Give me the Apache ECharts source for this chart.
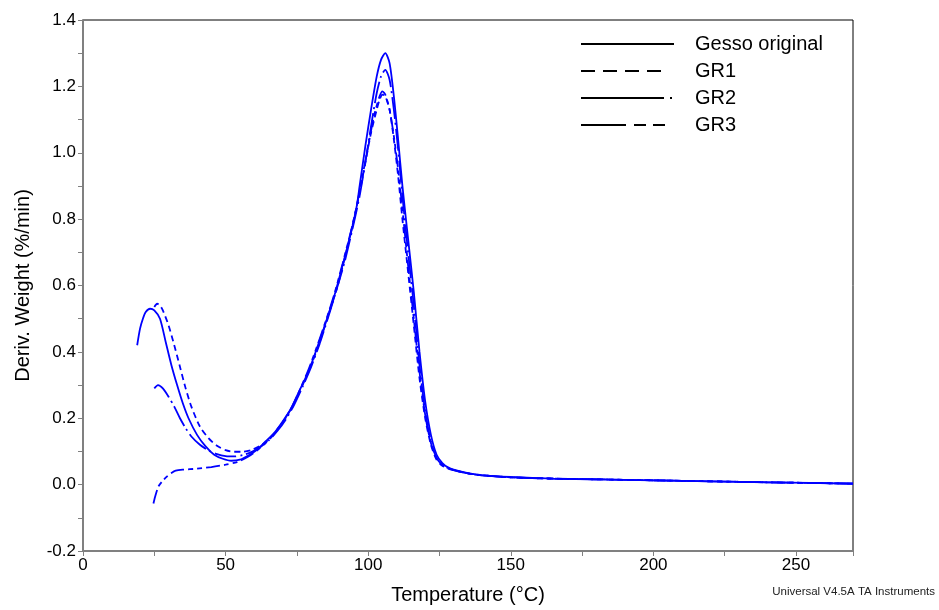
<!DOCTYPE html>
<html>
<head>
<meta charset="utf-8">
<script src="https://cdn.jsdelivr.net/npm/echarts@6/dist/echarts.min.js"></script>
<style>
	html, body { margin: 0; padding: 0; background: #fff; }
	#dtg { width: 939px; height: 610px; }
</style>
</head>
<body>
<div id="dtg"></div>
<script>
//////////// 데이터 ////////////
// Gesso original
var gessoT = [19,20,21,22,23.5,25,27,29,31,33,35,37,40,43,46,49,52,55,58,61,64,67,70,73,76,79,82,85,88,91,94,96,97,99,101,103,104.5,106,107.5,109,110.5,112,114,116,118,120,122,124,126,128,130,135,140,150,165,180,200,220,240,255,270];
var gessoV = [0.42,0.47,0.50,0.52,0.53,0.525,0.50,0.43,0.36,0.30,0.245,0.20,0.15,0.115,0.09,0.078,0.072,0.075,0.088,0.105,0.13,0.155,0.19,0.23,0.285,0.34,0.41,0.485,0.565,0.66,0.76,0.84,0.90,1.02,1.13,1.23,1.28,1.30,1.27,1.17,1.04,0.90,0.74,0.58,0.40,0.25,0.15,0.09,0.065,0.052,0.045,0.035,0.028,0.023,0.018,0.016,0.013,0.010,0.007,0.005,0.003];
// GR1
var gr1T = [25,26,27,28,30,32,34,36,38,41,44,47,50,53,56,59,62,65,68,71,74,77,80,83,86,89,92,95,97,99,101,103,104,105,106,107.5,109,110.5,112,114,116,118,120,122,124,126,128,130,135,140,150,165,180,200,220,240,255,270];
var gr1V = [0.535,0.545,0.54,0.525,0.48,0.42,0.355,0.29,0.235,0.175,0.14,0.117,0.104,0.099,0.099,0.104,0.116,0.135,0.165,0.2,0.245,0.3,0.36,0.43,0.51,0.59,0.69,0.80,0.88,0.97,1.06,1.13,1.16,1.175,1.17,1.13,1.04,0.93,0.80,0.64,0.48,0.32,0.2,0.12,0.075,0.057,0.048,0.043,0.034,0.028,0.022,0.018,0.016,0.013,0.01,0.007,0.005,0.003];
// GR2
var gr2T = [25,26.3,28,30,32,34,36,38,41,44,47,50,53,56,59,62,65,68,71,74,77,80,83,86,89,92,95,97,99,101,103,104.5,106,107.5,109,110.5,112,114,116,118,120,122,124,126,128,130,135,140,150,165,180,200,220,240,255,270];
var gr2V = [0.29,0.30,0.29,0.265,0.235,0.2,0.17,0.145,0.12,0.103,0.092,0.086,0.085,0.089,0.098,0.112,0.132,0.16,0.195,0.24,0.295,0.355,0.425,0.505,0.59,0.68,0.79,0.87,0.97,1.08,1.18,1.23,1.25,1.22,1.13,1.01,0.87,0.70,0.54,0.36,0.22,0.13,0.08,0.06,0.05,0.044,0.034,0.028,0.022,0.018,0.016,0.013,0.01,0.007,0.005,0.003];
// GR3
var gr3T = [24.7,25.5,26.5,28,29.5,31,32.5,35,40,45,50,54,58,61,64,67,70,73,76,79,82,85,88,91,94,96,98,100,102,104,105,106,107.5,109,110.5,112,114,116,118,120,122,124,126,128,130,135,140,150,165,180,200,220,240,255,270];
var gr3V = [-0.057,-0.03,-0.005,0.012,0.025,0.035,0.042,0.045,0.048,0.053,0.06,0.068,0.085,0.103,0.125,0.152,0.188,0.23,0.285,0.345,0.415,0.49,0.57,0.665,0.765,0.84,0.93,1.02,1.11,1.17,1.185,1.175,1.13,1.05,0.95,0.83,0.66,0.50,0.34,0.21,0.125,0.08,0.06,0.05,0.044,0.034,0.028,0.022,0.018,0.016,0.013,0.01,0.007,0.005,0.003];

var seriesNames = ['Gesso original', 'GR1', 'GR2', 'GR3'];
// 선 스타일 (차트 / 범례)
var lineDash = ['solid', [6, 4], [22, 4, 2, 4], [14, 4, 5, 4, 5, 4]];
var legendDash = ['solid', [14, 8, 14, 8, 14, 8, 14, 40], [83, 6, 2, 30], [45, 8, 12, 7, 12, 30]];

//////////// 차트 구성 ////////////
function pairs(t, v) {
	var out = [];
	for (var i = 0; i < t.length; i++) out.push([t[i], v[i]]);
	return out;
}

var allData = [pairs(gessoT, gessoV), pairs(gr1T, gr1V), pairs(gr2T, gr2V), pairs(gr3T, gr3V)];

var chart = echarts.init(document.getElementById('dtg'));

var series = [];
var legendData = [];
for (var i = 0; i < seriesNames.length; i++) {
	series.push({
		name: seriesNames[i],
		type: 'line',
		data: allData[i],
		symbol: 'none',
		smooth: 0.25,
		lineStyle: { color: '#0000ff', width: 1.8, type: lineDash[i] },
		itemStyle: { color: '#0000ff' }
	});
	legendData.push({
		name: seriesNames[i],
		itemStyle: { opacity: 0 },
		lineStyle: { color: '#000', width: 2, type: legendDash[i], opacity: 1 }
	});
}

var option = {
	animation: false,
	textStyle: { fontFamily: 'Liberation Sans, Arial, sans-serif' },
	grid: {
		left: 83, right: 86, top: 20, bottom: 56,
		show: true, borderColor: '#000', borderWidth: 1
	},
	legend: {
		data: legendData,
		orient: 'vertical',
		left: 575,
		top: 29,
		itemWidth: 93,
		itemHeight: 20,
		itemGap: 7,
		selectedMode: false,
		itemStyle: { opacity: 0 },
		textStyle: { fontSize: 20, color: '#000', padding: [0, 0, 0, 16] }
	},
	xAxis: {
		type: 'value',
		min: 0, max: 270, interval: 50,
		name: 'Temperature (°C)',
		nameLocation: 'middle',
		nameGap: 34,
		nameTextStyle: { fontSize: 20, color: '#000' },
		axisLine: { onZero: false, lineStyle: { color: '#808080', width: 2 } },
		axisTick: { show: true, inside: false, length: 5, lineStyle: { color: '#808080' } },
		minorTick: { show: true, splitNumber: 2, length: 5, lineStyle: { color: '#808080' } },
		axisLabel: { fontSize: 17, color: '#000', showMaxLabel: false, margin: 6 },
		splitLine: { show: false }
	},
	yAxis: {
		type: 'value',
		min: -0.2, max: 1.4, interval: 0.2,
		name: 'Deriv. Weight (%/min)',
		nameLocation: 'middle',
		nameGap: 50,
		nameTextStyle: { fontSize: 20, color: '#000' },
		axisLine: { show: true, onZero: false, lineStyle: { color: '#808080', width: 2 } },
		axisTick: { show: true, inside: false, length: 5, lineStyle: { color: '#808080' } },
		minorTick: { show: true, splitNumber: 2, length: 5, lineStyle: { color: '#808080' } },
		axisLabel: {
			fontSize: 17, color: '#000', margin: 7,
			formatter: function (v) { return v.toFixed(1); }
		},
		splitLine: { show: false }
	},
	graphic: [{
		type: 'text',
		right: 4,
		bottom: 12,
		style: { text: 'Universal V4.5A TA Instruments', fontSize: 11.5, fill: '#222', fontFamily: 'Liberation Sans, Arial, sans-serif' }
	}],
	series: series
};

chart.setOption(option);
</script>
</body>
</html>
